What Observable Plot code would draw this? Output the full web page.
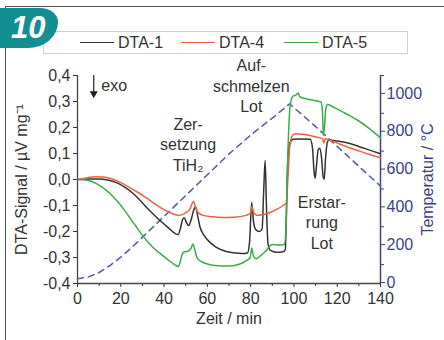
<!DOCTYPE html>
<html><head><meta charset="utf-8">
<script src="https://cdn.jsdelivr.net/npm/d3@7"></script>
<script src="https://cdn.jsdelivr.net/npm/@observablehq/plot@0.6"></script>
<style>
html,body{margin:0;padding:0;background:#fff;}
#wrap{position:relative;width:444px;height:340px;overflow:hidden;font-family:'Liberation Sans',Arial,sans-serif;background:#fff;}
#chart{position:absolute;left:0;top:0;}
#frameTop{position:absolute;left:5px;top:6px;width:439px;height:0;border-top:1.5px solid #555;}
#frameLeft{position:absolute;left:5px;top:6px;width:0;height:334px;border-left:1.5px solid #555;}
#legend{position:absolute;left:43px;top:31px;width:363px;height:21px;border:1px solid #d0d0d0;background:#fff;}
#legend .ln{position:absolute;top:10px;width:34px;height:0;border-top:1.5px solid #333;}
#legend .tx{position:absolute;top:1px;font-size:16px;line-height:20px;color:#333;}
#badge{position:absolute;left:0;top:8px;width:58px;height:40px;background:#138f91;border-radius:0 18px 30px 0 / 0 14px 26px 0;}
#badge span{position:absolute;left:11px;top:3px;color:#fff;font:italic bold 31px 'Liberation Sans',Arial,sans-serif;line-height:34px;}
</style></head>
<body>
<div id="wrap">
  <div id="chart"></div>
  <div id="frameTop"></div>
  <div id="frameLeft"></div>
  <div id="legend"></div>
  <div id="badge"><span>10</span></div>
</div>
<script>
// ---- data (time in min, DTA signal in µV/mg) ----
const seriesNames = ["DTA-1", "DTA-4", "DTA-5"];
const seriesColors = ["#333333", "#ee5f45", "#3dab4b"];

const dta1 = [[0,0],[5,0.002],[10,0.002],[14,-0.002],[18,-0.012],[22,-0.03],[26,-0.056],[30,-0.09],[34,-0.125],[38,-0.157],[42,-0.186],[45,-0.207],[46.5,-0.212],[47.5,-0.19],[48.5,-0.155],[49.3,-0.147],[50.3,-0.165],[51.3,-0.177],[52.5,-0.155],[53.8,-0.115],[54.5,-0.105],[55.3,-0.13],[56.5,-0.18],[58.5,-0.215],[61,-0.24],[64,-0.26],[68,-0.275],[72,-0.282],[76,-0.285],[78.5,-0.283],[79.5,-0.24],[80.5,-0.088],[81.3,-0.16],[82.3,-0.192],[84,-0.2],[85.3,-0.19],[86,-0.05],[86.7,0.073],[87.3,-0.1],[88,-0.245],[89,-0.272],[92,-0.28],[95,-0.278],[96,-0.27],[96.6,-0.1],[97.3,0.1],[98.2,0.14],[99.6,0.155],[103,0.156],[107.5,0.155],[108.6,0.12],[109.3,0.03],[109.8,0.005],[110.4,0.05],[111.2,0.115],[112,0.12],[112.8,0.08],[113.5,0.01],[114,0.0],[114.6,0.08],[115.5,0.145],[116.5,0.152],[120,0.148],[125,0.14],[130,0.127],[135,0.113],[140,0.099]];

const dta4 = [[0,0],[4,0.006],[8,0.011],[12,0.01],[16,0.002],[20,-0.012],[24,-0.03],[28,-0.05],[32,-0.072],[36,-0.095],[40,-0.116],[44,-0.132],[46.5,-0.138],[48.5,-0.135],[50.5,-0.125],[52,-0.113],[53.1,-0.09],[53.7,-0.085],[54.5,-0.105],[55.5,-0.125],[58,-0.138],[62,-0.143],[66,-0.146],[72,-0.145],[78,-0.138],[79.8,-0.13],[80.5,-0.105],[81.3,-0.125],[83,-0.138],[86,-0.135],[89,-0.127],[92,-0.115],[95,-0.1],[96.5,-0.09],[97.2,0.0],[98,0.12],[99,0.165],[100.5,0.176],[104,0.174],[108,0.168],[112,0.16],[113.3,0.156],[113.8,0.14],[114.4,0.157],[116,0.153],[120,0.14],[125,0.124],[130,0.11],[135,0.096],[140,0.083]];

const dta5 = [[0,0],[3,-0.001],[6,-0.006],[9,-0.017],[12,-0.033],[15,-0.054],[18,-0.08],[21,-0.11],[24,-0.145],[27,-0.18],[30,-0.215],[33,-0.245],[36,-0.27],[39,-0.29],[42,-0.31],[45,-0.328],[46.5,-0.335],[47.5,-0.315],[48.5,-0.285],[49.5,-0.278],[51,-0.276],[52.5,-0.265],[53.3,-0.248],[54.2,-0.27],[55.2,-0.3],[57,-0.315],[60,-0.325],[65,-0.332],[70,-0.333],[75,-0.325],[78,-0.312],[79.8,-0.3],[80.5,-0.263],[81.3,-0.295],[82.5,-0.305],[85,-0.29],[87,-0.275],[88.5,-0.26],[90,-0.25],[93,-0.252],[95.5,-0.25],[96.3,-0.2],[97.2,0.1],[98.2,0.28],[99.5,0.32],[101,0.325],[102,0.333],[102.7,0.318],[106,0.31],[110,0.303],[112.5,0.298],[113.2,0.26],[113.6,0.17],[114.1,0.2],[114.7,0.27],[115.5,0.288],[118,0.28],[122,0.262],[126,0.245],[130,0.225],[135,0.195],[140,0.16]];

// temperature program (time in min, °C)
const temperature = [[0,25],[5,35],[10,58],[15,95],[20,140],[25,190],[30,245],[40,355],[50,465],[60,575],[70,685],[80,785],[90,875],[98,950],[110,830],[120,725],[130,620],[140,515]];

// ticks
const xTicks = [0,20,40,60,80,100,120,140];
const xMinorTicks = [10,30,50,70,90,110,130];
const yTicks = [-0.4,-0.3,-0.2,-0.1,0,0.1,0.2,0.3,0.4];
const tempTicks = [0,200,400,600,800,1000];
const tempMinorTicks = [100,300,500,700,900,1100];

// annotations
const annotations = [
  {x: 51.1, y: 0.138, text: "Zer-\nsetzung\nTiH₂"},
  {x: 80.3, y: 0.362, text: "Auf-\nschmelzen\nLot"},
  {x: 112.9, y: -0.163, text: "Erstar-\nrung\nLot"}
];
const exoLabel = [{x: 11.0, y: 0.362, text: "exo"}];
const exoArrow = [{x: 7.5, y1: 0.4, y2: 0.335, tip: 0.33}];

// ---- build ----
const tempColor = "#5a5fa6";
const tempAxisColor = "#3b3f8c";
const tMap = d3.scaleLinear().domain([0, 1100]).range([-0.4, 0.4]);
const tempRows = temperature.map(([t, T]) => ({t, v: tMap(T)}));
const rows = (arr, name) => arr.map(([t, v]) => ({t, v, name}));
const allSeries = [rows(dta1, "DTA-1"), rows(dta4, "DTA-4"), rows(dta5, "DTA-5")];
const fmt = d => d.toFixed(1).replace(".", ",").replace("-0,0", "0,0");

const plot = Plot.plot({
  width: 444, height: 340,
  marginLeft: 77, marginRight: 64, marginTop: 75, marginBottom: 57,
  x: {domain: [0, 140]},
  y: {domain: [-0.4, 0.4]},
  style: {fontFamily: "'Liberation Sans', Arial, sans-serif", fontSize: "16px", background: "transparent", color: "#333", overflow: "visible"},
  marks: [
    Plot.axisX(xTicks, {tickSize: 4, tickPadding: 5, tickFormat: d => String(d), label: "Zeit / min", labelAnchor: "center", labelArrow: "none", labelOffset: 40, fontSize: 16}),
    Plot.axisX(xMinorTicks, {tickSize: 3, tickFormat: () => "", label: null}),
    Plot.axisY(yTicks, {tickSize: 4, tickPadding: 3, tickFormat: fmt, label: "DTA-Signal / µV mg⁻¹", labelAnchor: "center", labelArrow: "none", labelOffset: 62, fontSize: 16}),
    Plot.axisY(tempTicks.map(tMap), {anchor: "right", tickSize: 4, tickPadding: 2, dy: -1, tickFormat: d => String(Math.round(tMap.invert(d))), color: tempAxisColor, label: "Temperatur / °C", labelAnchor: "center", labelArrow: "none", labelOffset: 52, fontSize: 16}),
    Plot.axisY(tempMinorTicks.map(tMap), {anchor: "right", tickSize: 3, tickFormat: () => "", color: tempAxisColor, label: null}),
    Plot.ruleX([0], {stroke: "#444", strokeWidth: 1.3}),
    Plot.ruleY([-0.4], {stroke: "#444", strokeWidth: 1.3}),
    Plot.ruleX([140], {stroke: tempAxisColor, strokeWidth: 1.5}),
    Plot.line(tempRows, {x: "t", y: "v", stroke: tempColor, strokeWidth: 1.6, strokeDasharray: "6,5"}),
    ...allSeries.map((s, i) => Plot.line(s, {x: "t", y: "v", stroke: seriesColors[i], strokeWidth: 1.5, curve: "monotone-x"})),
    Plot.text(annotations, {x: "x", y: "y", text: "text", lineHeight: 1.28, textAnchor: "middle", fill: "#333", fontSize: 16}),
    Plot.text(exoLabel, {x: "x", y: "y", text: "text", textAnchor: "start", fill: "#333", fontSize: 16}),
    Plot.ruleX(exoArrow, {x: "x", y1: "y1", y2: "y2", stroke: "#222", strokeWidth: 1.2}),
    Plot.dot(exoArrow, {x: "x", y: "tip", symbol: "triangle", r: 3, fill: "#222", rotate: 180})
  ]
});
document.getElementById("chart").appendChild(plot);

// legend
const legend = document.getElementById("legend");
const legendLineX = [36, 137, 240];
seriesNames.forEach((n, i) => {
  const ln = document.createElement("div");
  ln.className = "ln";
  ln.style.left = legendLineX[i] + "px";
  ln.style.borderTopColor = seriesColors[i];
  legend.appendChild(ln);
  const tx = document.createElement("div");
  tx.className = "tx";
  tx.style.left = (legendLineX[i] + 38) + "px";
  tx.textContent = n;
  legend.appendChild(tx);
});
</script>
</body></html>
